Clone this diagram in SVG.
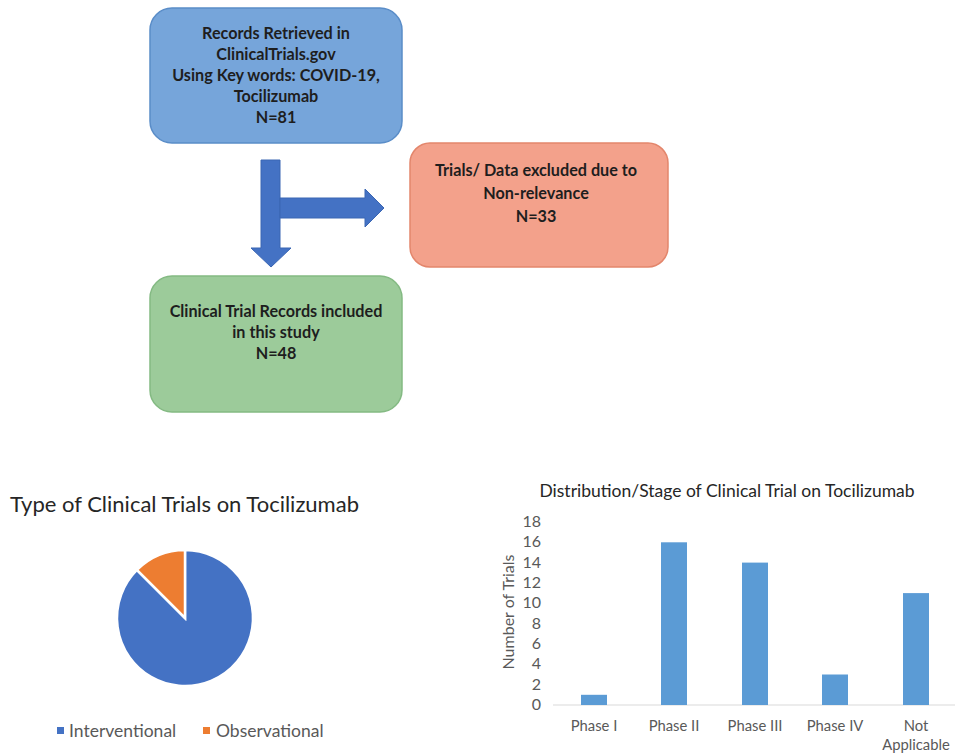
<svg xmlns="http://www.w3.org/2000/svg" width="955" height="753" viewBox="0 0 955 753">
  <style>
    .box-text { font-family: Lato, "Liberation Sans", sans-serif; font-weight: bold; font-size: 16.2px; fill: #1e1e1e; text-anchor: middle; }
    .chart-title { font-family: Lato, "Liberation Sans", sans-serif; fill: #262626; }
    .axis-text { font-family: Lato, "Liberation Sans", sans-serif; font-size: 14.8px; fill: #595959; }
    .tick-text { font-family: Lato, "Liberation Sans", sans-serif; font-size: 16px; fill: #595959; }
    .legend-text { font-family: Lato, "Liberation Sans", sans-serif; font-size: 17.5px; fill: #595959; }
    .bar { fill: #5B9BD5; }
    .flow-arrow { fill: #4472C4; stroke: #3A66B3; stroke-width: 1; }
  </style>

  <rect width="955" height="753" fill="#ffffff"/>

  <!-- Flowchart boxes -->
  <g id="records-retrieved">
    <rect x="150" y="8" width="252" height="135" rx="22" ry="22" fill="#76A5DA" stroke="#5A8DC8" stroke-width="1.5"/>
    <text class="box-text" x="276" y="39">Records Retrieved in</text>
    <text class="box-text" x="276" y="60">ClinicalTrials.gov</text>
    <text class="box-text" x="276" y="81">Using Key words: COVID-19,</text>
    <text class="box-text" x="276" y="102">Tocilizumab</text>
    <text class="box-text" x="276" y="123">N=81</text>
  </g>

  <g id="excluded">
    <rect x="410" y="143" width="258" height="124" rx="20" ry="20" fill="#F3A18B" stroke="#E3866C" stroke-width="1.5"/>
    <text class="box-text" x="536" y="176">Trials/ Data excluded due to</text>
    <text class="box-text" x="536" y="199">Non-relevance</text>
    <text class="box-text" x="536" y="222">N=33</text>
  </g>

  <g id="included">
    <rect x="150" y="276" width="252" height="136" rx="22" ry="22" fill="#9CCB9A" stroke="#84BA83" stroke-width="1.5"/>
    <text class="box-text" x="276" y="317">Clinical Trial Records included</text>
    <text class="box-text" x="276" y="338">in this study</text>
    <text class="box-text" x="276" y="359">N=48</text>
  </g>

  <!-- Block arrows between the boxes -->
  <g id="connectors">
    <path class="flow-arrow" d="M261,160 L280,160 L280,248 L291,248 L271,267 L251,248 L261,248 Z"/>
    <path class="flow-arrow" d="M280,198 L365,198 L365,189 L384,208 L365,227 L365,218 L280,218 Z"/>
  </g>

  <!-- Pie chart: trial types -->
  <g id="pie-chart">
    <text class="chart-title" x="10" y="512" font-size="22">Type of Clinical Trials on Tocilizumab</text>
    <path d="M185,618 L185,550 A68,68 0 1 1 136.92,569.92 Z" fill="#4472C4" stroke="#ffffff" stroke-width="2.5"/>
    <path d="M185,618 L136.92,569.92 A68,68 0 0 1 185,550 Z" fill="#ED7D31" stroke="#ffffff" stroke-width="2.5"/>
    <rect x="57" y="727" width="7" height="7" fill="#4472C4"/>
    <text class="legend-text" x="69" y="737">Interventional</text>
    <rect x="203" y="727" width="7" height="7" fill="#ED7D31"/>
    <text class="legend-text" x="216" y="737">Observational</text>
  </g>

  <!-- Bar chart: trial phases -->
  <g id="bar-chart">
    <text class="chart-title" x="727" y="497" font-size="17.5" text-anchor="middle">Distribution/Stage of Clinical Trial on Tocilizumab</text>
    <g class="tick-text" text-anchor="end">
      <text x="541" y="527">18</text>
      <text x="541" y="547">16</text>
      <text x="541" y="568">14</text>
      <text x="541" y="588">12</text>
      <text x="541" y="608">10</text>
      <text x="541" y="629">8</text>
      <text x="541" y="649">6</text>
      <text x="541" y="669">4</text>
      <text x="541" y="690">2</text>
      <text x="541" y="710">0</text>
    </g>
    <text class="tick-text" transform="translate(514,612) rotate(-90)" text-anchor="middle">Number of Trials</text>
    <line x1="553" y1="705" x2="955" y2="705" stroke="#D9D9D9" stroke-width="1.2"/>
    <rect class="bar" x="581" y="694.8" width="26" height="10.2"/>
    <rect class="bar" x="661" y="542.3" width="26" height="162.7"/>
    <rect class="bar" x="742" y="562.6" width="26" height="142.4"/>
    <rect class="bar" x="822" y="674.5" width="26" height="30.5"/>
    <rect class="bar" x="903" y="593.1" width="26" height="111.9"/>
    <g class="axis-text" text-anchor="middle">
      <text x="594" y="731">Phase I</text>
      <text x="674" y="731">Phase II</text>
      <text x="755" y="731">Phase III</text>
      <text x="835" y="731">Phase IV</text>
      <text x="916" y="731">Not</text>
      <text x="916" y="750">Applicable</text>
    </g>
  </g>
</svg>
